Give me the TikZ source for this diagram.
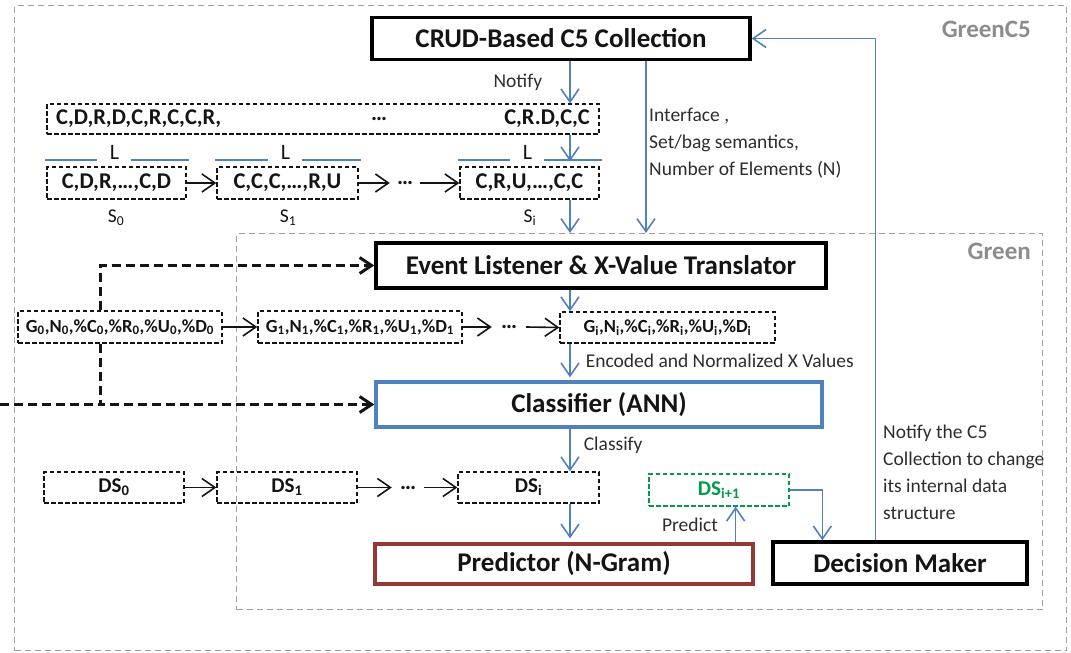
\documentclass[tikz,border=0pt]{standalone}
\usepackage{fontspec}
\setmainfont{Carlito}
\usetikzlibrary{arrows.meta,calc}
\definecolor{flowblue}{RGB}{79,129,189}
\definecolor{predred}{RGB}{149,55,53}
\definecolor{nextgreen}{RGB}{0,155,72}
\definecolor{framegray}{RGB}{160,160,160}
\definecolor{titlegray}{RGB}{140,140,140}
\definecolor{labeltext}{RGB}{45,45,45}
\definecolor{inktext}{RGB}{20,20,20}
\newcommand\ssb[1]{\textsubscript{#1}}
\newcommand\fsz[2]{\fontsize{#1}{#2}\selectfont}
\tikzset{
  vtip/.tip={Straight Barb[length=13pt,width=18pt]},
  frame/.style={draw=framegray, line width=1.1pt, dash pattern=on 6pt off 4pt, inner sep=0pt},
  frametitle/.style={font=\bfseries\fsz{25}{28}, text=titlegray, inner sep=0pt},
  mainbox/.style={draw, line width=3.3pt, inner sep=0pt, font=\bfseries\fsz{27}{30}, text=inktext},
  dbox/.style={draw=inktext, line width=1.4pt, dash pattern=on 4.5pt off 2.5pt, inner sep=0pt, text=inktext},
  seqtext/.style={font=\bfseries\fsz{22.5}{24}, text=inktext, inner sep=0pt},
  gtext/.style={font=\bfseries\fsz{18.5}{20}},
  dstext/.style={font=\bfseries\fsz{21}{24}},
  lbl/.style={font=\fsz{19.5}{27}, text=labeltext, inner sep=0pt},
  flow/.style={draw=flowblue, line width=1.6pt, -vtip},
  chain/.style={draw=inktext, line width=1.6pt, -vtip},
  feed/.style={draw=inktext, line width=3pt, dash pattern=on 9pt off 5pt, -{Straight Barb[length=12pt,width=16pt]}},
  feedline/.style={draw=inktext, line width=3pt, dash pattern=on 9pt off 5pt},
  bracket/.style={draw=flowblue, line width=1.7pt},
}
\begin{document}
\begin{tikzpicture}[x=1pt,y=-1pt]
\useasboundingbox (0,0) rectangle (1071,653);

% frames
\node[frame, anchor=north west, minimum width=1052, minimum height=645] (outer) at (14,5) {};
\node[frame, anchor=north west, minimum width=806, minimum height=376] (green) at (236,233) {};
\node[frametitle, anchor=east] (outertitle) at (1031,29) {GreenC5};
\node[frametitle, anchor=east] (greentitle) at (1031,251) {Green};

% main components
\node[mainbox, minimum width=378, minimum height=42] (crud) at (561,38.5) {CRUD-Based C5 Collection};
\node[mainbox, minimum width=450, minimum height=45] (el) at (601,265.5) {Event Listener \& X-Value Translator};
\node[mainbox, draw=flowblue, minimum width=446, minimum height=45] (clf) at (599,404.5) {Classifier (ANN)};
\node[mainbox, draw=predred, minimum width=378, minimum height=40] (pred) at (564,564) {Predictor (N-Gram)};
\node[mainbox, minimum width=254, minimum height=42] (dm) at (900,563) {Decision Maker};

% operation stream
\node[dbox, minimum width=552, minimum height=30] (seq) at (323,119) {};
\node[seqtext, anchor=west] (seqa) at (56,119) {C,D,R,D,C,R,C,C,R,};
\node[seqtext] (seqdots) at (379,119) {…};
\node[seqtext, anchor=east] (seqb) at (590,119) {C,R.D,C,C};

% windows of length L
\node[dbox, seqtext, minimum width=139, minimum height=32] (s0) at (116.5,183) {C,D,R,…,C,D};
\node[dbox, seqtext, minimum width=141, minimum height=32] (s1) at (287.5,183) {C,C,C,…,R,U};
\node[seqtext, inner xsep=7pt] (sdots) at (405,183) {…};
\node[dbox, seqtext, minimum width=139, minimum height=32] (si) at (529.5,183) {C,R,U,…,C,C};
\node[lbl, text=inktext] (s0name) at (116,218) {S\ssb{0}};
\node[lbl, text=inktext] (s1name) at (288,218) {S\ssb{1}};
\node[lbl, text=inktext] (siname) at (530,218) {S\ssb{i}};

\foreach \w in {s0,s1,si}{
  \draw[bracket] ($(\w.north west)+(-1,-6)$) -- ($(\w.north)+(-20,-6)$);
  \draw[bracket] ($(\w.north)+(14,-6)$) -- ($(\w.north east)+(2,-6)$);
  \node[lbl, text=inktext, font=\fsz{22}{24}] (L\w) at ($(\w.north)+(-2,-14)$) {L};
}

\draw[chain] (s0.east) -- (s1.west);
\draw[chain] (s1.east) -- (sdots.west);
\draw[chain] (sdots.east) -- (si.west);

% feature vectors
\node[dbox, gtext, minimum width=204, minimum height=32] (g0) at (120,327) {G\ssb{0},N\ssb{0},\%C\ssb{0},\%R\ssb{0},\%U\ssb{0},\%D\ssb{0}};
\node[dbox, gtext, minimum width=204, minimum height=32] (g1) at (360,327) {G\ssb{1},N\ssb{1},\%C\ssb{1},\%R\ssb{1},\%U\ssb{1},\%D\ssb{1}};
\node[seqtext, inner xsep=9pt] (gdots) at (509,327) {…};
\node[dbox, gtext, minimum width=215, minimum height=31] (gi) at (667.5,327.5) {G\ssb{i},N\ssb{i},\%C\ssb{i},\%R\ssb{i},\%U\ssb{i},\%D\ssb{i}};

\draw[chain] (g0.east) -- (g1.west);
\draw[chain] (g1.east) -- (gdots.west);
\draw[chain] (gdots.east) -- (gi.west);

% data structure history
\node[dbox, dstext, minimum width=140, minimum height=31] (ds0) at (114,487.5) {DS\ssb{0}};
\node[dbox, dstext, minimum width=140, minimum height=31] (ds1) at (287,487.5) {DS\ssb{1}};
\node[seqtext, inner xsep=8pt] (dsdots) at (408,487.5) {…};
\node[dbox, dstext, minimum width=141, minimum height=31] (dsi) at (528.5,487.5) {DS\ssb{i}};
\node[dbox, dstext, draw=nextgreen, text=nextgreen, minimum width=140, minimum height=32] (dsn) at (719,490) {DS\ssb{i+1}};

\draw[chain] (ds0.east) -- (ds1.west);
\draw[chain] (ds1.east) -- (dsdots.west);
\draw[chain] (dsdots.east) -- (dsi.west);

% main column of blue flow arrows
\coordinate (colx) at (570,0);
\draw[flow] (crud.south -| colx) -- node[lbl, left=27pt] {Notify} (seq.north -| colx);
\draw[flow] (seq.south -| colx) -- ($(si.north -| colx)+(0,-5)$);
\draw[flow] (si.south -| colx) -- (green.north -| colx);
\coordinate (ifx) at ($(crud.south)+(85,0)$);
\draw[flow] (ifx) -- (green.north -| ifx);
\node[lbl, anchor=west, align=left] (iflbl) at (649,143) {Interface ,\\Set/bag semantics,\\Number of Elements (N)};
\draw[flow] (el.south -| colx) -- (gi.north -| colx);
\draw[flow] (gi.south -| colx) -- node[lbl, right=15pt] {Encoded and Normalized X Values} ($(clf.north -| colx)+(0,-3)$);
\draw[flow] (clf.south -| colx) -- node[lbl, pos=0.38, right=13pt] {Classify} (dsi.north -| colx);
\draw[flow] (dsi.south -| colx) -- ($(pred.north -| colx)+(0,-4)$);

% prediction and decision
\coordinate (predx) at ($(pred.north east)+(-19,0)$);
\draw[flow] (predx) -- node[lbl, left=17pt] {Predict} (predx |- dsn.south);
\coordinate (dmin) at ($(dm.north west)+(51,0)$);
\draw[flow] (dsn.east) -| (dmin);
\coordinate (dmout) at ($(dm.north west)+(104,0)$);
\draw[flow] (dmout) |- (crud.east);
\node[lbl, anchor=north west, align=left] (dmlbl) at (883,425) {Notify the C5\\Collection to change\\its internal data\\structure};

% feature vector feed into listener and classifier
\coordinate (feedtop) at ($(g0.north west)+(83,0)$);
\coordinate (feedbot) at ($(g0.south west)+(83,0)$);
\coordinate (inlet) at (0,404.5);
\draw[feed] (feedtop) |- (el.west);
\draw[feed] (feedbot) |- (clf.west);
\draw[feedline] (inlet) -- (feedbot |- clf.west);
\end{tikzpicture}
\end{document}
